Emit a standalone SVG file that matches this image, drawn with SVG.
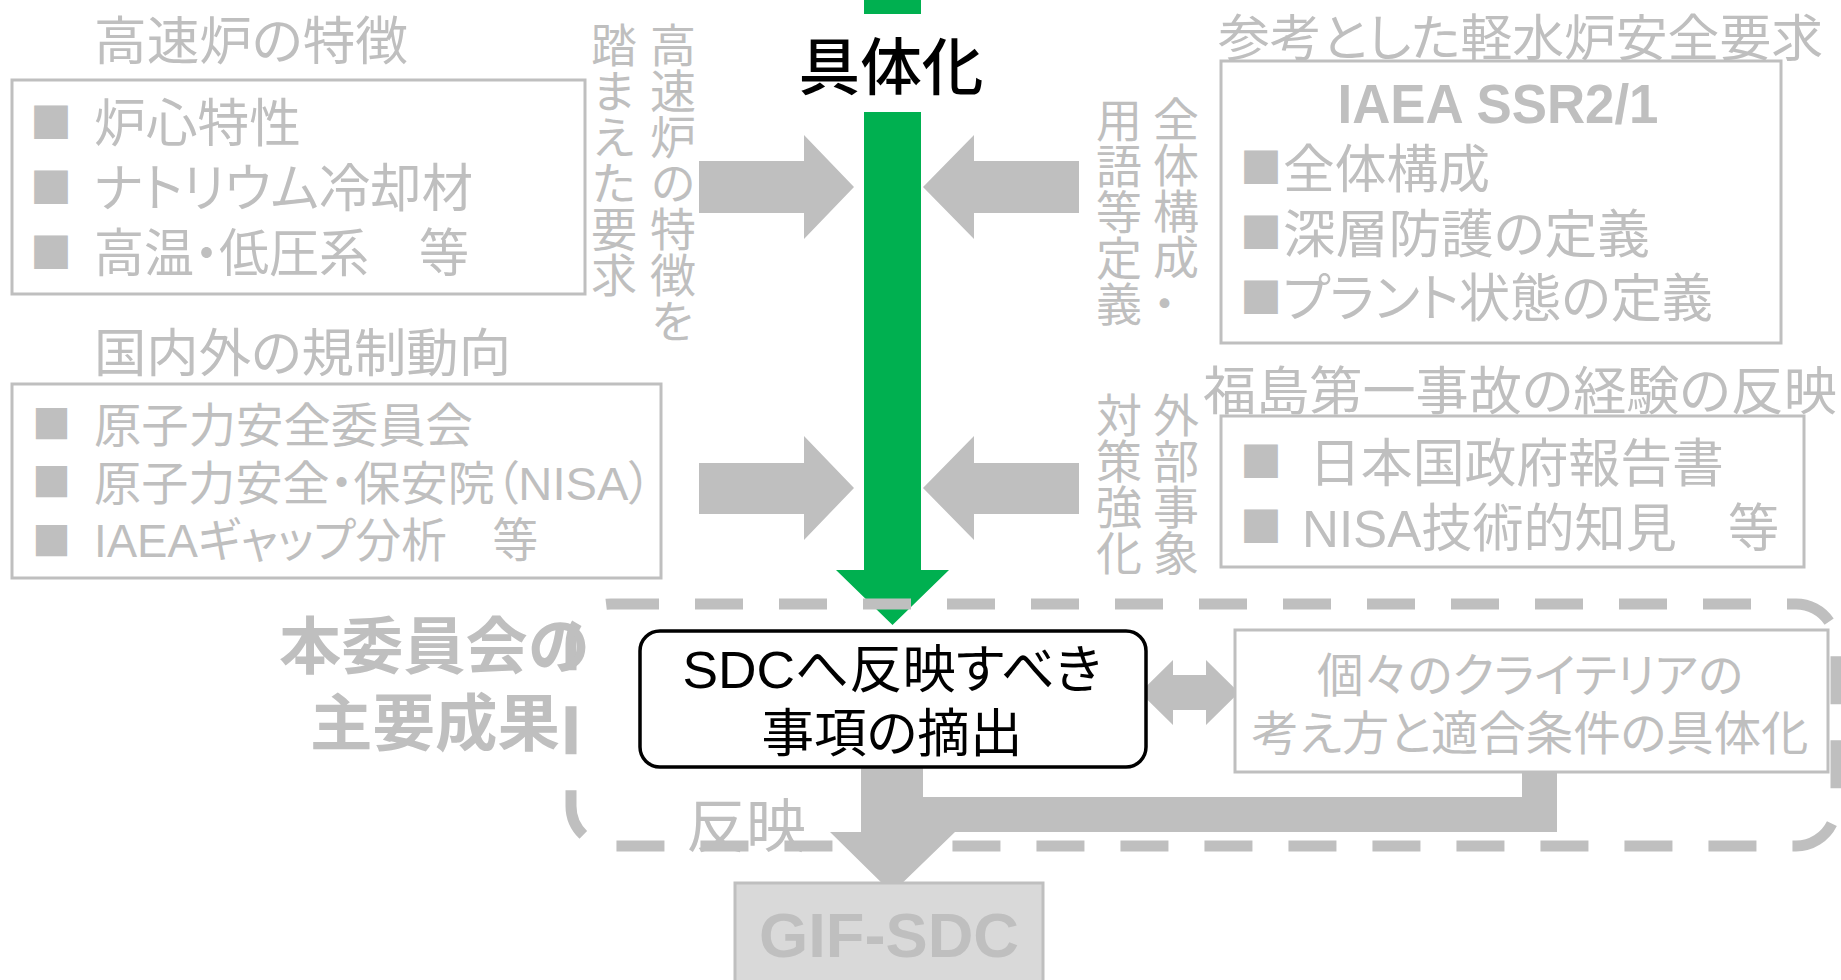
<svg xmlns="http://www.w3.org/2000/svg" width="1841" height="980" viewBox="0 0 1841 980">
<defs>
<style>
text{font-family:"Liberation Sans","Noto Sans CJK JP",sans-serif;font-feature-settings:"palt";}
.g{fill:#bfbfbf}
.k{fill:#000}
.f52{font-size:52px}
.f47{font-size:47px}
.box{fill:none;stroke:#bfbfbf;stroke-width:3}
.sq{font-family:"Noto Sans CJK JP",sans-serif;font-feature-settings:normal;fill:#bfbfbf;font-size:42px}
.sq2{font-family:"Noto Sans CJK JP",sans-serif;font-feature-settings:normal;fill:#bfbfbf;font-size:39px}
.v{font-family:"Noto Sans CJK JP",sans-serif;writing-mode:vertical-rl;font-size:46px;fill:#bfbfbf}
.ga{fill:#bfbfbf}
.b{font-weight:bold}
.m{text-anchor:middle}
</style>
</defs>
<rect width="1841" height="980" fill="#fff"/>

<g id="connectors">
  <rect x="864" y="0" width="57" height="14" fill="#00b050"/>
  <polygon points="864,112 921,112 921,570 949,570 892.5,625 836,570 864,570" fill="#00b050"/>
  <text x="891" y="90" class="k m" font-size="62" font-weight="500" textLength="185" lengthAdjust="spacingAndGlyphs">具体化</text>
  <polygon class="ga" points="699,161 804,161 804,135 854,187 804,239 804,213 699,213"/>
  <polygon class="ga" points="1079,161 974,161 974,135 923,187 974,239 974,213 1079,213"/>
  <polygon class="ga" points="699,463 804,463 804,436 854,488 804,540 804,514 699,514"/>
  <polygon class="ga" points="1079,463 974,463 974,436 923,488 974,540 974,514 1079,514"/>
  <text x="673" y="22" class="v">高速炉の特徴を</text>
  <text x="614" y="22" class="v">踏まえた要求</text>
  <text x="1176" y="96" class="v">全体構成・</text>
  <text x="1119" y="97" class="v">用語等定義</text>
  <text x="1176" y="392" class="v">外部事象</text>
  <text x="1119" y="392" class="v">対策強化</text>
  <polygon class="ga" points="1140,692.5 1173,660 1173,675 1206,675 1206,660 1239,692.5 1206,725 1206,710 1173,710 1173,725"/>
  <polygon class="ga" points="861,768 923,768 923,797 1522,797 1522,771 1557,771 1557,832 955,832 892,893 830,832 861,832"/>
  <text x="686" y="847" class="g" font-size="58" textLength="120" lengthAdjust="spacingAndGlyphs">反映</text>
</g>

<g id="main-results">
  <rect x="571" y="604" width="1265" height="242" rx="40" fill="none" stroke="#bfbfbf" stroke-width="11" stroke-dasharray="48 36"/>
  <text x="434" y="669" class="g b m" font-size="62" textLength="310" lengthAdjust="spacingAndGlyphs">本委員会の</text>
  <text x="435" y="746" class="g b m" font-size="62" textLength="250" lengthAdjust="spacingAndGlyphs">主要成果</text>
</g>

<g id="fbr-features">
  <text x="94" y="60" class="g f52" textLength="314" lengthAdjust="spacingAndGlyphs">高速炉の特徴</text>
  <rect x="12" y="80" width="573" height="214" class="box"/>
  <text x="30" y="138" class="sq">■</text>
  <text x="94" y="142" class="g f52" textLength="207" lengthAdjust="spacingAndGlyphs">炉心特性</text>
  <text x="30" y="203" class="sq">■</text>
  <text x="94" y="207" class="g f52" textLength="379" lengthAdjust="spacingAndGlyphs">ナトリウム冷却材</text>
  <text x="30" y="268" class="sq">■</text>
  <text x="94" y="272" class="g f52" textLength="375" lengthAdjust="spacingAndGlyphs">高温・低圧系　等</text>
</g>

<g id="regulatory-trends">
  <text x="94" y="372" class="g f52" textLength="417" lengthAdjust="spacingAndGlyphs">国内外の規制動向</text>
  <rect x="12" y="384" width="649" height="194" class="box"/>
  <text x="32" y="438" class="sq2">■</text>
  <text x="94" y="442" class="g f47" textLength="379" lengthAdjust="spacingAndGlyphs">原子力安全委員会</text>
  <text x="32" y="496" class="sq2">■</text>
  <text x="94" y="500" class="g f47" textLength="558" lengthAdjust="spacingAndGlyphs">原子力安全・保安院（NISA）</text>
  <text x="32" y="555" class="sq2">■</text>
  <text x="94" y="557" class="g f47" textLength="444" lengthAdjust="spacingAndGlyphs">IAEAギャップ分析　等</text>
</g>

<g id="lwr-requirements">
  <text x="1218" y="56" class="g" font-size="50" textLength="605" lengthAdjust="spacingAndGlyphs">参考とした軽水炉安全要求</text>
  <rect x="1221" y="61" width="560" height="282" class="box"/>
  <text x="1498" y="123" class="g b m" font-size="56" textLength="321" lengthAdjust="spacingAndGlyphs">IAEA SSR2/1</text>
  <text x="1240" y="183" class="sq">■</text>
  <text x="1283" y="188" class="g f52" textLength="207" lengthAdjust="spacingAndGlyphs">全体構成</text>
  <text x="1240" y="248" class="sq">■</text>
  <text x="1283" y="253" class="g f52" textLength="367" lengthAdjust="spacingAndGlyphs">深層防護の定義</text>
  <text x="1240" y="313" class="sq">■</text>
  <text x="1283" y="317" class="g f52" textLength="430" lengthAdjust="spacingAndGlyphs">プラント状態の定義</text>
</g>

<g id="fukushima-lessons">
  <text x="1203" y="410" class="g f52" textLength="634" lengthAdjust="spacingAndGlyphs">福島第一事故の経験の反映</text>
  <rect x="1221" y="416" width="583" height="151" class="box"/>
  <text x="1240" y="477" class="sq">■</text>
  <text x="1309" y="482" class="g f52" textLength="415" lengthAdjust="spacingAndGlyphs">日本国政府報告書</text>
  <text x="1240" y="542" class="sq">■</text>
  <text x="1302" y="547" class="g f52" textLength="477" lengthAdjust="spacingAndGlyphs">NISA技術的知見　等</text>
</g>

<g id="sdc-items">
  <rect x="640" y="631" width="506" height="136" rx="20" fill="#fff" stroke="#000" stroke-width="3.5"/>
  <text x="892" y="688" class="k m f52" textLength="419" lengthAdjust="spacingAndGlyphs">SDCへ反映すべき</text>
  <text x="892" y="752" class="k m f52" textLength="261" lengthAdjust="spacingAndGlyphs">事項の摘出</text>
</g>

<g id="criteria">
  <rect x="1235" y="630" width="593" height="142" fill="#fff" stroke="#bfbfbf" stroke-width="3"/>
  <text x="1530" y="692" class="g m f47" textLength="426" lengthAdjust="spacingAndGlyphs">個々のクライテリアの</text>
  <text x="1530" y="750" class="g m f47" textLength="557" lengthAdjust="spacingAndGlyphs">考え方と適合条件の具体化</text>
</g>

<g id="gif-sdc">
  <rect x="735" y="883" width="308" height="100" fill="#d9d9d9" stroke="#bfbfbf" stroke-width="3"/>
  <text x="889" y="957" class="g b m" font-size="63" textLength="260" lengthAdjust="spacingAndGlyphs">GIF-SDC</text>
</g>
</svg>
